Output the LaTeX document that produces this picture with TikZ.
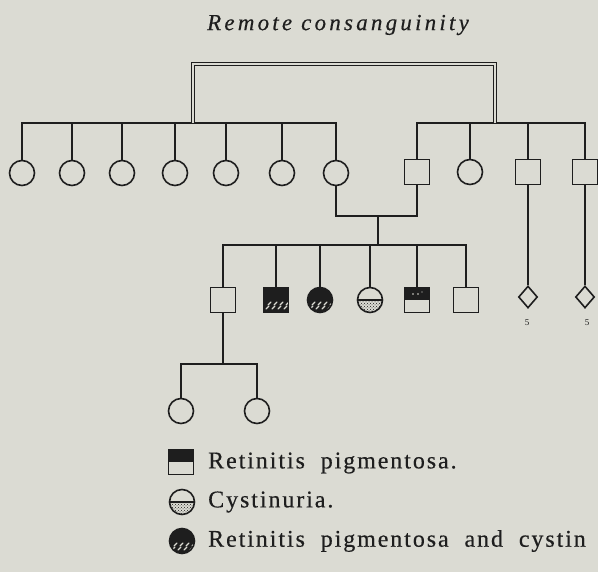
\documentclass[tikz,border=0pt]{standalone}
\usepackage{fontspec}
\setmainfont{Liberation Serif}
\newfontfamily\titlefont[LetterSpace=14, FakeBold=0.4]{Liberation Serif}
\newfontfamily\legendfont[LetterSpace=8, WordSpace=2, FakeBold=0.4]{Liberation Serif}
\usetikzlibrary{shapes.geometric,patterns}

\definecolor{paper}{RGB}{219,219,211}
\definecolor{ink}{RGB}{30,30,30}

\tikzset{
  conn/.style={draw=ink, line width=1.7pt, line join=miter},
  dbl/.style={draw=ink, double=paper, double distance=2.2pt, line width=1.1pt, line join=miter},
  female/.style={circle, draw=ink, line width=1.6pt, minimum size=25pt, inner sep=0pt},
  male/.style={rectangle, draw=ink, line width=1.6pt, minimum size=25pt, inner sep=0pt},
  unknown/.style={diamond, draw=ink, line width=1.6pt, minimum width=19pt, minimum height=22pt, inner sep=0pt},
  % retinitis pigmentosa: upper half black
  rp/.style={path picture={
      \fill[ink] (path picture bounding box.north west) rectangle (path picture bounding box.east);
      \fill[paper] ([shift={(-4pt,6pt)}]path picture bounding box.center) circle (0.8pt);
      \fill[paper] ([shift={(1pt,6pt)}]path picture bounding box.center) circle (0.8pt);
      \fill[paper] ([shift={(5pt,8pt)}]path picture bounding box.center) circle (0.7pt);
    }},
  rplegend/.style={path picture={
      \fill[ink] (path picture bounding box.north west) rectangle (path picture bounding box.east);
    }},
  % cystinuria: dividing line, stippled lower half
  cys/.style={path picture={
      \fill[pattern=crosshatch dots, pattern color=ink] (path picture bounding box.west) rectangle (path picture bounding box.south east);
      \draw[ink, line width=1.3pt] (path picture bounding box.west) -- (path picture bounding box.east);
    }},
  % both conditions: black with a pale stippled band at the bottom
  both/.style={path picture={
      \fill[ink] (path picture bounding box.south west) rectangle (path picture bounding box.north east);
      \foreach \dx in {-10,-4,2,8} {
        \draw[paper, line width=1.2pt, line cap=round]
          ([shift={(\dx pt,-9pt)}]path picture bounding box.center) -- ++(3pt,3pt);
        \draw[paper, line width=1.2pt, line cap=round]
          ([shift={(\dx pt+2pt,-5pt)}]path picture bounding box.center) -- ++(3pt,3pt);
      }
    }},
  smalllabel/.style={font=\fontsize{9}{10}\selectfont, text=ink, inner sep=0pt},
  legendtext/.style={anchor=west, font=\legendfont\fontsize{24}{26}\selectfont, text=ink, inner sep=0pt},
}

\begin{document}
\begin{tikzpicture}[x=1pt, y=-1pt]
  % page
  \fill[paper] (0,0) rectangle (598,572);
  \useasboundingbox (0,0) rectangle (598,572);

  \node[font=\titlefont\itshape\fontsize{23}{26}\selectfont, text=ink] (title) at (338,25) {Remote consanguinity};

  % generation I levels
  \coordinate (sibA) at (0,123);
  \coordinate (topbar) at (0,64);

  % first sibship
  \node[female] (a1) at (22,173) {};
  \node[female] (a2) at (72,173) {};
  \node[female] (a3) at (122,173) {};
  \node[female] (a4) at (175,173) {};
  \node[female] (a5) at (226,173) {};
  \node[female] (a6) at (282,173) {};
  \node[female] (a7) at (336,173) {};

  % second sibship
  \node[male]   (b1) at (417,172) {};
  \node[female] (b2) at (470,172) {};
  \node[male]   (b3) at (528,172) {};
  \node[male]   (b4) at (585,172) {};

  \draw[conn] (a1.north) -- (a1.north |- sibA) -- (a7.north |- sibA) -- (a7.north);
  \foreach \n in {a2,a3,a4,a5,a6} \draw[conn] (\n.north) -- (\n.north |- sibA);
  \draw[conn] (b1.north) -- (b1.north |- sibA) -- (b4.north |- sibA) -- (b4.north);
  \foreach \n in {b2,b3} \draw[conn] (\n.north) -- (\n.north |- sibA);

  % consanguinity link between the two sibships
  \coordinate (linkA) at (193,123);
  \coordinate (linkB) at (495,123);
  \draw[dbl] (linkA) -- (linkA |- topbar) -- (linkB |- topbar) -- (linkB);

  % marriage and descent
  \coordinate (mar) at (0,216);
  \coordinate (desc) at (378,216);
  \coordinate (sibB) at (0,245);
  \draw[conn] (a7.south) -- (a7.south |- mar) -- (b1.south |- mar) -- (b1.south);

  % children
  \node[male]        (c1) at (223,300) {};
  \node[male, both]  (c2) at (276,300) {};
  \node[female, both](c3) at (320,300) {};
  \node[female, cys] (c4) at (370,300) {};
  \node[male, rp]    (c5) at (417,300) {};
  \node[male]        (c6) at (466,300) {};

  \draw[conn] (desc) -- (desc |- sibB);
  \draw[conn] (c1.north) -- (c1.north |- sibB) -- (c6.north |- sibB) -- (c6.north);
  \foreach \n in {c2,c3,c4,c5} \draw[conn] (\n.north) -- (\n.north |- sibB);

  % offspring of unknown sex
  \node[unknown] (u1) at (528,297) {};
  \node[unknown] (u2) at (585,297) {};
  \node[smalllabel] (u1n) at (527,323) {5};
  \node[smalllabel] (u2n) at (587,323) {5};
  \draw[conn] (b3.south) -- (u1.north);
  \draw[conn] (b4.south) -- (u2.north);

  % grandchildren
  \coordinate (sibC) at (0,364);
  \node[female] (d1) at (181,411) {};
  \node[female] (d2) at (257,411) {};
  \draw[conn] (c1.south) -- (c1.south |- sibC);
  \draw[conn] (d1.north) -- (d1.north |- sibC) -- (d2.north |- sibC) -- (d2.north);

  % key
  \node[male, rplegend] (k1) at (181,462) {};
  \node[female, cys]    (k2) at (182,502) {};
  \node[female, both]   (k3) at (182,541) {};
  \node[legendtext] (k1t) at (208,463) {Retinitis pigmentosa.};
  \node[legendtext] (k2t) at (208,502) {Cystinuria.};
  \node[legendtext] (k3t) at (208,541) {Retinitis pigmentosa and cystin};
\end{tikzpicture}
\end{document}
